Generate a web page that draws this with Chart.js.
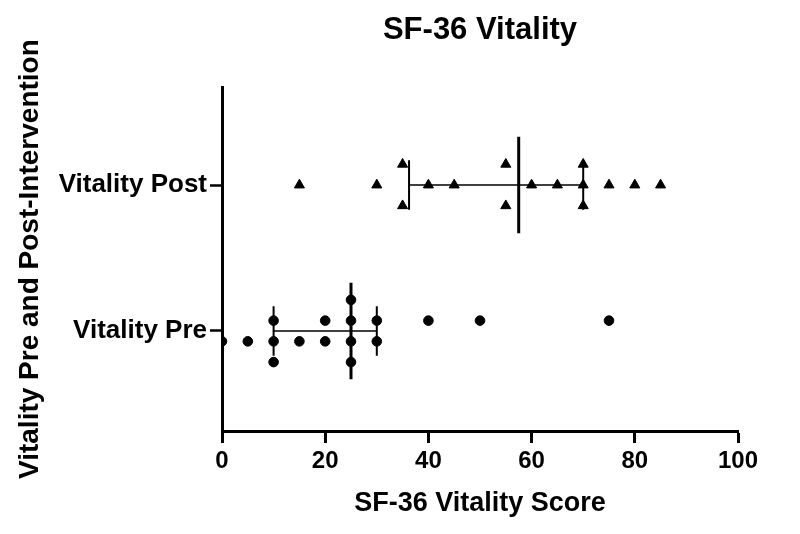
<!DOCTYPE html>
<html>
<head>
<meta charset="utf-8">
<title>SF-36 Vitality</title>
<script src="https://cdn.jsdelivr.net/npm/chart.js@4.4.1/dist/chart.umd.min.js"></script>
<style>
  html, body { margin: 0; padding: 0; background: #fff; }
  #wrap { width: 800px; height: 534px; }
</style>
</head>
<body>
<div id="wrap"><canvas id="myChart"></canvas></div>
<script>
const categories = ['Vitality Pre', 'Vitality Post'];
const preScores = [0, 5, 10, 10, 10, 15, 20, 20, 25, 25, 25, 25, 30, 30, 40, 50, 75];
const postScores = [15, 30, 35, 35, 40, 45, 55, 55, 60, 65, 70, 70, 70, 75, 80, 85];
const xTicks = [0, 20, 40, 60, 80, 100];

const ROW_STEP = 0.142;   // vertical gap between stacked dots (y units)
const MEDIAN_HALF = 0.33;
const CAP_HALF = 0.17;

// quartiles the way Prism does it: position (n+1)p
function quantile(sorted, p) {
    const pos = (sorted.length + 1) * p;
    const lo = Math.floor(pos);
    const frac = pos - lo;
    if (lo < 1) return sorted[0];
    if (lo >= sorted.length) return sorted[sorted.length - 1];
    return sorted[lo - 1] + frac * (sorted[lo] - sorted[lo - 1]);
}

// stack equal values in rows around the category centre
function dotLayout(values, center) {
    const sorted = [...values].sort((a, b) => a - b);
    const med = quantile(sorted, 0.5);
    const counts = {};
    values.forEach(v => counts[v] = (counts[v] || 0) + 1);
    const maxCount = Math.max(...Object.values(counts));
    const pts = [];
    Object.keys(counts).map(Number).sort((a, b) => a - b).forEach(v => {
        const n = counts[v];
        for (let i = 0; i < n; i++) {
            let row = i - (n - 1) / 2;
            if (n % 2 !== maxCount % 2) {
                if (maxCount % 2 === 1) row += row < 0 ? -0.5 : 0.5;
                else row += v < med ? 0.5 : -0.5;
            }
            pts.push({x: v, y: center - row * ROW_STEP});
        }
    });
    return pts;
}

function summaryLines(values, center) {
    const sorted = [...values].sort((a, b) => a - b);
    const q1 = quantile(sorted, 0.25);
    const med = quantile(sorted, 0.5);
    const q3 = quantile(sorted, 0.75);
    const line = (data, w) => ({
        type: 'scatter', data: data, showLine: true, borderColor: '#000',
        borderWidth: w, pointRadius: 0, pointHoverRadius: 0, fill: false
    });
    return [
        line([{x: q1, y: center}, {x: q3, y: center}], 1.5),
        line([{x: q1, y: center - CAP_HALF}, {x: q1, y: center + CAP_HALF}], 2),
        line([{x: q3, y: center - CAP_HALF}, {x: q3, y: center + CAP_HALF}], 2),
        line([{x: med, y: center - MEDIAN_HALF}, {x: med, y: center + MEDIAN_HALF}], 3)
    ];
}

let vitalityChart;

function initChart() {
    Chart.defaults.font.family = '"Liberation Sans", Arial, Helvetica, sans-serif';
    Chart.defaults.color = '#000';
    const ctx = document.getElementById('myChart').getContext('2d');

    vitalityChart = new Chart(ctx, {
        type: 'scatter',
        data: {
            datasets: [
                ...summaryLines(preScores, 1),
                ...summaryLines(postScores, 2),
                {
                    label: categories[0],
                    data: dotLayout(preScores, 1),
                    pointStyle: 'circle',
                    pointRadius: 4.8,
                    backgroundColor: '#000',
                    borderColor: '#000',
                    borderWidth: 1
                },
                {
                    label: categories[1],
                    data: dotLayout(postScores, 2),
                    pointStyle: 'triangle',
                    pointRadius: 5.8,
                    backgroundColor: '#000',
                    borderColor: '#000',
                    borderWidth: 1
                }
            ]
        },
        options: {
            responsive: true,
            maintainAspectRatio: false,
            animation: false,
            layout: { padding: { top: 0, right: 62, bottom: 0, left: 0 } },
            plugins: {
                legend: { display: false },
                tooltip: { enabled: false },
                title: {
                    display: true,
                    fullSize: false,
                    text: 'SF-36 Vitality',
                    color: '#000',
                    font: { size: 31, weight: 'bold' },
                    padding: { top: 12, bottom: 38 }
                }
            },
            scales: {
                x: {
                    type: 'linear',
                    min: 0,
                    max: 100,
                    afterBuildTicks: axis => { axis.ticks = xTicks.map(v => ({value: v})); },
                    afterFit: axis => { axis.height = 103; },
                    grid: { drawOnChartArea: false, tickLength: 12, tickWidth: 3, color: '#000' },
                    border: { display: true, width: 3, color: '#000' },
                    ticks: { font: { size: 24, weight: 'bold' }, color: '#000', padding: 4, maxRotation: 0 },
                    title: {
                        display: true,
                        text: 'SF-36 Vitality Score',
                        color: '#000',
                        font: { size: 27, weight: 'bold' },
                        padding: { top: 0, bottom: 14 }
                    }
                },
                y: {
                    type: 'linear',
                    min: 0.315,
                    max: 2.67,
                    afterBuildTicks: axis => { axis.ticks = [1, 2].map(v => ({value: v})); },
                    afterFit: axis => { axis.width = 222; },
                    grid: { drawOnChartArea: false, tickLength: 12, tickWidth: 2.5, color: '#000' },
                    border: { display: true, width: 3, color: '#000' },
                    ticks: {
                        font: { size: 26, weight: 'bold' },
                        color: '#000',
                        padding: 3,
                        callback: v => categories[v - 1]
                    },
                    title: {
                        display: true,
                        text: 'Vitality Pre and Post-Intervention',
                        color: '#000',
                        font: { size: 28, weight: 'bold' },
                        padding: { top: 13, bottom: 0 }
                    }
                }
            }
        }
    });
}

window.onload = initChart;
</script>
</body>
</html>
